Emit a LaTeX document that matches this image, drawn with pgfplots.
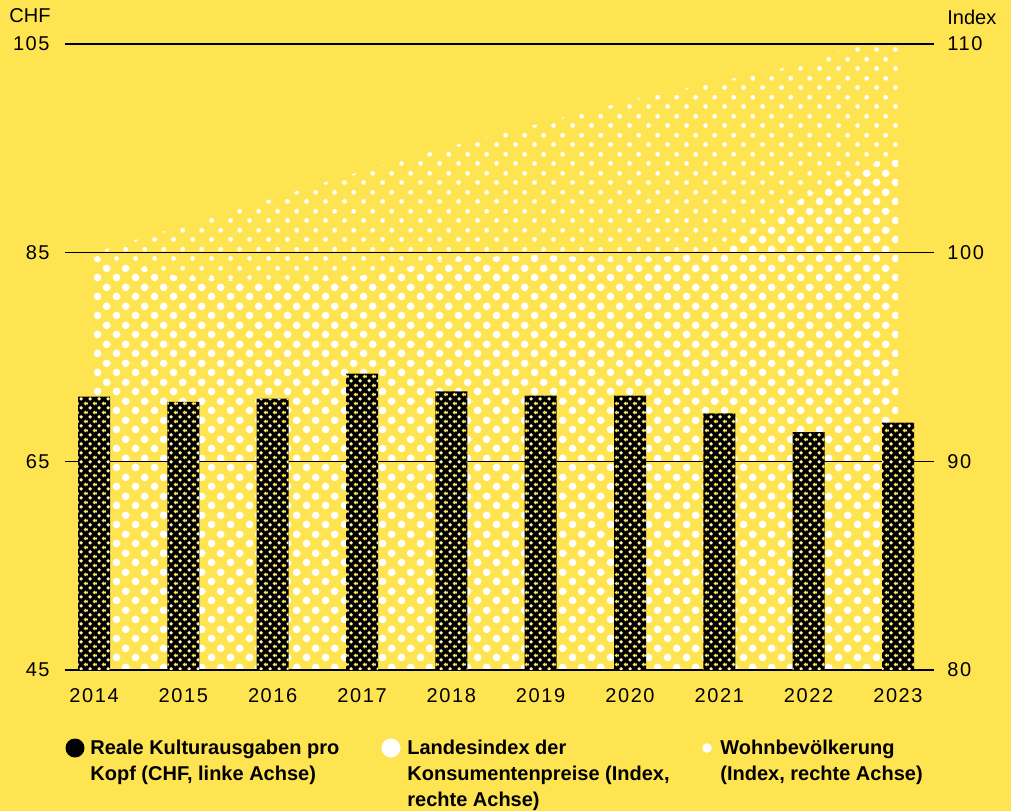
\documentclass[border=0pt]{standalone}
\usepackage{fontspec}
\setmainfont{Liberation Sans}
\newfontfamily\tickfont[LetterSpace=8]{Liberation Sans}
\usepackage{pgfplots}
\usepackage{pgfplotstable}
\pgfplotsset{compat=1.18}
\usetikzlibrary{patterns.meta}
\definecolor{bg}{HTML}{FFE451}
\definecolor{pale}{HTML}{FFF4B0}

\tikzdeclarepattern{
  name=bigdots, type=colored,
  bottom left={(0pt,0pt)}, top right={(9.3pt,9.3pt)}, tile size={(9.3pt,9.3pt)},
  code={
    \fill[white] (2.325pt,2.325pt) circle (1.95pt);
    \fill[white] (6.975pt,6.975pt) circle (1.95pt);
  }
}
\tikzdeclarepattern{
  name=smalldots, type=colored,
  bottom left={(0pt,0pt)}, top right={(9.3pt,9.3pt)}, tile size={(9.3pt,9.3pt)},
  code={
    \fill[white] (2.325pt,2.325pt) circle (1.2pt);
    \fill[white] (6.975pt,6.975pt) circle (1.2pt);
  }
}
\tikzdeclarepattern{
  name=barholes, type=colored,
  bottom left={(0pt,0pt)}, top right={(4.4pt,4.4pt)}, tile size={(4.4pt,4.4pt)},
  code={
    \fill[pale] (1.1pt,1.1pt) circle (0.95pt);
    \fill[bg] (3.3pt,3.3pt) circle (0.95pt);
  }
}

\pgfplotstableread{
year chf
2014 71.2
2015 70.7
2016 71.0
2017 73.4
2018 71.7
2019 71.3
2020 71.3
2021 69.6
2022 67.8
2023 68.7
}\barsdata

\pgfplotstableread{
year pop
2014 100.0
2015 101.3
2016 102.6
2017 103.9
2018 105.1
2019 106.2
2020 107.3
2021 108.2
2022 109.1
2023 110.7
}\popdata

\pgfplotstableread{
year cpi
2014 99.8
2015 98.8
2016 98.6
2017 98.9
2018 99.7
2019 99.9
2020 99.6
2021 100.1
2022 102.8
2023 104.8
}\cpidata

\begin{document}
\begin{tikzpicture}
\fill[bg] (-32.5pt,-70.5pt) rectangle (473pt,335pt);
\path[use as bounding box] (-32.5pt,-70.5pt) rectangle (473pt,335pt);

% Index axis (areas, right labels, grid)
\begin{axis}[
  scale only axis, width=434.5pt, height=313pt,
  at={(0pt,0pt)}, anchor=south west,
  xmin=2013.675, xmax=2023.403, ymin=80, ymax=110,
  ytick={80,90,100,110}, yticklabel pos=right, xtick=\empty,
  ymajorgrids, grid style={black, line width=0.65pt},
  axis line style={draw=none}, major tick length=0pt,
  /pgf/number format/assume math mode=true,
  yticklabel style={font=\tickfont, anchor=west, inner sep=0pt, xshift=6.5pt},
  axis on top,
]
\addplot[draw=none, pattern=smalldots] table[x=year,y=pop] {\popdata} \closedcycle;
\addplot[draw=none, pattern=bigdots] table[x=year,y=cpi] {\cpidata} \closedcycle;
\end{axis}

% CHF axis (bars, left labels, years)
\begin{axis}[
  scale only axis, width=434.5pt, height=313pt,
  at={(0pt,0pt)}, anchor=south west,
  xmin=2013.675, xmax=2023.403, ymin=45, ymax=105,
  ytick={45,65,85,105}, xtick={2014,...,2023},
  axis line style={draw=none}, major tick length=0pt,
  /pgf/number format/assume math mode=true,
  /pgf/number format/1000 sep={},
  yticklabel style={font=\tickfont, anchor=east, inner sep=0pt, xshift=-7.5pt},
  xticklabel style={font=\tickfont, anchor=north, inner sep=0pt, yshift=-9pt},
]
\addplot[ybar, bar width=16pt, fill=black, draw=none,
  postaction={pattern=barholes}] table[x=year,y=chf] {\barsdata};
\end{axis}

\node[anchor=west, inner sep=0pt] at (-28pt,327pt) {CHF};
\node[anchor=west, inner sep=0pt] at (441pt,326.5pt) {Index};

% legend
\fill[black] (5pt,-39pt) circle (4.75pt);
\node[anchor=north west, inner sep=0pt, align=left, font=\bfseries\fontsize{10}{13}\selectfont]
  at (12.5pt,-35pt) {Reale Kulturausgaben pro\\Kopf (CHF, linke Achse)};
\fill[white] (163pt,-39pt) circle (4.75pt);
\node[anchor=north west, inner sep=0pt, align=left, font=\bfseries\fontsize{10}{13}\selectfont]
  at (171pt,-35pt) {Landesindex der\\Konsumentenpreise (Index,\\rechte Achse)};
\fill[white] (321pt,-39pt) circle (2.4pt);
\node[anchor=north west, inner sep=0pt, align=left, font=\bfseries\fontsize{10}{13}\selectfont]
  at (327.5pt,-35pt) {Wohnbevölkerung\\(Index, rechte Achse)};
\end{tikzpicture}
\end{document}
